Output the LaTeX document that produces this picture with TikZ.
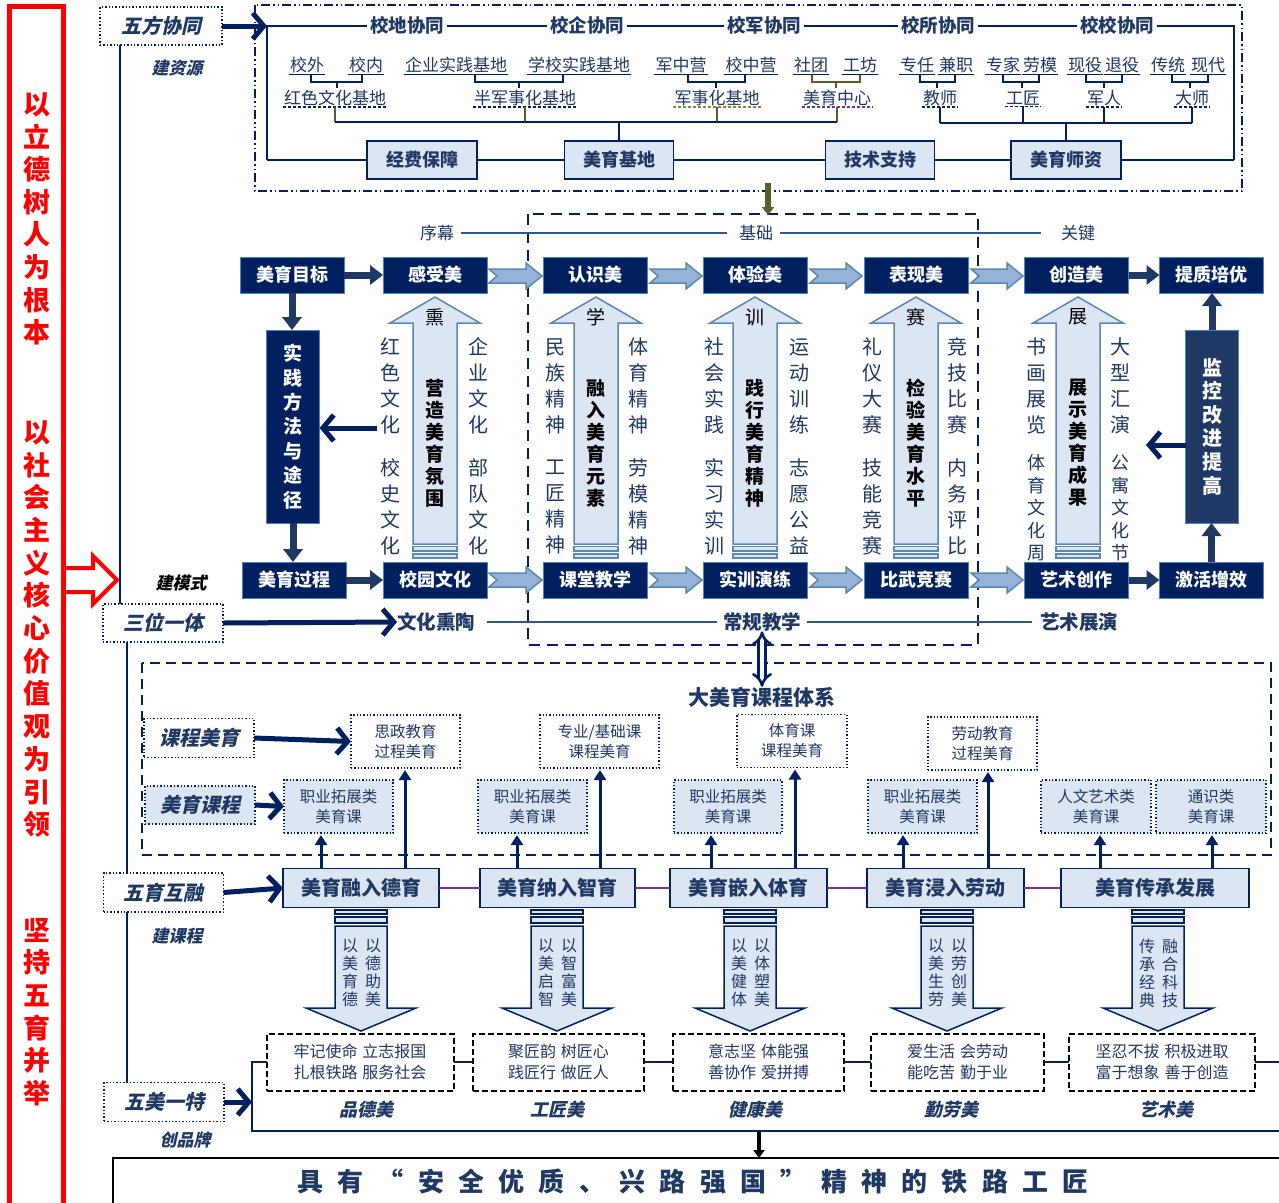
\documentclass[tikz,border=0pt]{standalone}
\usepackage{fontspec}
\setmainfont{Noto Sans CJK SC}
\newfontfamily\itf[FakeSlant=0.22]{Noto Sans CJK SC}
\usetikzlibrary{arrows.meta,calc}
\definecolor{navy}{HTML}{002060}
\definecolor{dblue}{HTML}{1F3864}
\definecolor{lblue}{HTML}{DCE6F2}
\definecolor{ablue}{HTML}{95B3D7}
\definecolor{sblue}{HTML}{4F81BD}
\definecolor{gblue}{HTML}{5B87B5}
\definecolor{lineblue}{HTML}{2F5597}
\definecolor{dgreen}{HTML}{4F6228}
\definecolor{olive}{HTML}{76923C}
\definecolor{purp}{HTML}{7030A0}
\definecolor{redc}{HTML}{FF0000}
\newcommand\fs[2]{\fontsize{#1}{#2}\selectfont}
\tikzset{
  every node/.style={inner sep=0pt, outer sep=0pt},
  navybox/.style={fill=navy, draw=sblue, line width=0.6pt, text=white,
     font=\bfseries\fs{18}{22}, minimum width=104pt, minimum height=36pt},
  vbox/.style={fill=navy, draw=sblue, line width=0.6pt, text=white, align=center,
     font=\bfseries\fs{19}{24.4}, minimum width=53pt, minimum height=193pt},
  lbox/.style={fill=lblue, draw=navy, line width=1.6pt, text=dblue,
     font=\bfseries\fs{18}{22}, minimum height=38pt},
  wybox/.style={lbox, font=\bfseries\fs{20}{24}, minimum height=39pt},
  tagbox/.style={draw=navy, dotted, line width=1.4pt, fill=white, text=dblue,
     font=\itf\bfseries\fs{20}{24}, minimum width=120pt, minimum height=38pt},
  kcbox/.style={draw=navy, dotted, line width=1.3pt, fill=white, text=dblue,
     font=\fs{15.5}{20}, align=center, minimum height=53pt},
  kcbbox/.style={kcbox, fill=lblue},
  pdbox/.style={draw=black, line width=2pt, dash pattern=on 6pt off 3pt, text=dblue,
     font=\fs{16}{21}, align=center, minimum height=57pt},
  toplab/.style={fill=white, inner xsep=3pt, text=dblue, font=\bfseries\fs{18.5}{22}},
  wordA/.style={text=dblue, font=\fs{17}{20}, inner sep=1.2pt},
  vside/.style={text=dblue, font=\fs{20}{26}, align=center},
  vside5/.style={text=dblue, font=\fs{18}{22.5}, align=center},
  vin/.style={text=black, font=\bfseries\fs{19}{22}, align=center},
  vhead/.style={text=black, font=\fs{19}{22}},
  dntxt/.style={text=dblue, font=\fs{16}{18}, align=center},
  lab/.style={text=dblue, font=\itf\bfseries\fs{17}{20}},
  midlab/.style={text=dblue, font=\fs{17}{20}},
  boldlab/.style={text=dblue, font=\bfseries\fs{19.5}{22}},
  frame/.style={draw=navy, line width=2.2pt},
  thinl/.style={draw=lineblue, line width=1.8pt},
  darr/.style={draw=dblue, line width=7pt, -{Triangle[length=13pt,width=19pt]}},
  barb/.style={draw=navy, line width=5pt, -{Straight Barb[length=11pt,width=26pt,line width=5pt]}},
  uparr/.style={draw=navy, line width=3pt, shorten >=2pt, -{Triangle[length=10pt,width=12pt]}},
  chevst/.style={fill=ablue, draw=gblue, line width=1.5pt, line join=miter},
  bigup/.style={fill=lblue, draw=gblue, line width=1.5pt, line join=miter},
  bigdn/.style={fill=lblue, draw=navy, line width=1.5pt, line join=miter},
  bigdash/.style={draw=navy, line width=2.2pt, dash pattern=on 11pt off 7pt},
}
\newcommand\chev[3]{\draw[chevst] (#1,#3-7) -- (#2-16,#3-7) -- (#2-16,#3-13) -- (#2,#3) -- (#2-16,#3+13) -- (#2-16,#3+7) -- (#1,#3+7) -- (#1+8,#3) -- cycle;}
\newcommand\upcol[1]{%
  \draw[bigup] (#1-22,544) -- (#1-22,323) -- (#1-45,323) -- (#1,297) -- (#1+45,323) -- (#1+22,323) -- (#1+22,544) -- cycle;
  \draw[bigup] (#1-22,546.5) rectangle (#1+22,551);
  \draw[bigup] (#1-22,554) rectangle (#1+22,558);}
\newcommand\dncol[1]{%
  \draw[bigdn] (#1-26,910) rectangle (#1+26,914);
  \draw[bigdn] (#1-26,917) rectangle (#1+26,923);
  \draw[bigdn] (#1-26,926) -- (#1-26,1008) -- (#1-55,1008) -- (#1,1031) -- (#1+55,1008) -- (#1+26,1008) -- (#1+26,926) -- cycle;}
\newcommand\brk[4][navy]{\draw[#1, line width=1.4pt] (#2,75) -- (#2,82) -- (#3,82) -- (#3,75) (#4,82) -- (#4,88);}
\begin{document}
\begin{tikzpicture}[x=1pt,y=-1pt]
\useasboundingbox (0,0) rectangle (1279,1202);
\fill[white] (0,0) rectangle (1279,1202);

% ---------- red column ----------
\draw[redc, line width=5pt] (9.5,6) rectangle (63.5,1220);
\node[text=redc, font=\bfseries\fs{27}{32.6}, align=center] (red1) at (37,219) {以\\立\\德\\树\\人\\为\\根\\本};
\node[text=redc, font=\bfseries\fs{27}{32.7}, align=center] (red2) at (37,629) {以\\社\\会\\主\\义\\核\\心\\价\\值\\观\\为\\引\\领};
\node[text=redc, font=\bfseries\fs{27}{32.6}, align=center] (red3) at (37,1012) {坚\\持\\五\\育\\并\\举};
\fill[white] (66,568) -- (93,568) -- (93,556) -- (117,580) -- (93,604) -- (93,592) -- (66,592) -- cycle;
\draw[redc, line width=4pt, line join=miter] (66,568) -- (93,568) -- (93,556) -- (117,580) -- (93,604) -- (93,592) -- (66,592);

% ---------- left tags ----------
\node[tagbox, minimum width=122pt] (wf) at (161,26) {五方协同};
\node[tagbox] (sw) at (163,623) {三位一体};
\node[tagbox, minimum height=39pt] (wy) at (163.5,892.5) {五育互融};
\node[tagbox, minimum height=39pt] (wm) at (164,1102) {五美一特};
\draw[navy, line width=2pt] (wf.south -| 120,0) -- (sw.north -| 120,0);
\draw[navy, line width=2pt] (sw.south -| 127,0) -- (wy.north -| 127,0);
\draw[navy, line width=2pt] (wy.south -| 127,0) -- (wm.north -| 127,0);
\node[lab] (l1) at (177,68) {建资源};
\node[lab, text=black] (l2) at (181,583) {建模式};
\node[lab] (l3) at (177,936) {建课程};
\node[lab] (l4) at (185,1140) {创品牌};

% ---------- top section ----------
\draw[navy, line width=1.8pt, dash pattern=on 9pt off 3pt on 1.5pt off 3pt on 1.5pt off 3pt] (255,5) rectangle (1242,191);
\coordinate (fl) at (267,26);
\draw[barb] (wf.east) -- (fl);
\draw[frame] (267,160) -- (267,26) -- (1234,26) -- (1234,160);
\node[toplab] (x1) at (407,25) {校地协同};
\node[toplab] (x2) at (587,25) {校企协同};
\node[toplab] (x3) at (764,25) {校军协同};
\node[toplab] (x4) at (938,25) {校所协同};
\node[toplab] (x5) at (1117,25) {校校协同};
\node[lbox, minimum width=110pt] (jf) at (422,160) {经费保障};
\node[lbox, minimum width=109pt] (mj) at (619,160) {美育基地};
\node[lbox, minimum width=109pt] (js) at (880,160) {技术支持};
\node[lbox, minimum width=110pt] (ms) at (1066,160) {美育师资};
\draw[frame] (267,160) -- (jf.west) (jf.east) -- (mj.west) (mj.east) -- (js.west) (js.east) -- (ms.west) (ms.east) -- (1234,160);

\foreach \n/\x/\t in {w1/307/校外, w2/366/校内, w3/456/企业实践基地, w4/579/学校实践基地, w5/681/军中营, w6/751/校中营, w7/811/社团, w8/860/工坊, w9/917/专任, w10/956/兼职, w11/1003/专家, w12/1040/劳模, w13/1085/现役, w14/1122/退役, w15/1168/传统, w16/1208/现代}{
  \node[wordA] (\n) at (\x,65) {\t};
  \draw[navy, line width=0.9pt] (\n.south west) -- (\n.south east);}
\foreach \n/\x/\t/\c in {r1/335/红色文化基地/navy, r2/525/半军事化基地/navy, r3/717/军事化基地/olive, r4/837/美育中心/purp, r5/940/教师/navy, r6/1023/工匠/navy, r7/1104/军人/navy, r8/1192/大师/navy}{
  \node[wordA] (\n) at (\x,98) {\t};
  \draw[\c, line width=1.3pt, dash pattern=on 3pt off 2pt] (\n.south west) -- (\n.south east);}
\brk{311}{362}{337}
\brk{475}{563}{519}
\brk{688}{745}{716}
\brk[dgreen]{812}{860}{836}
\brk{920}{955}{937}
\brk{1003}{1039}{1022}
\brk{1086}{1122}{1104}
\brk{1172}{1208}{1190}
\foreach \n in {r1,r2,r3,r4}{\draw[dgreen, line width=1.8pt] (\n.south) -- (\n.south |- 0,122);}
\draw[frame] (r1.south |- 0,122) -- (r4.south |- 0,122);
\draw[frame] (mj.north |- 0,122) -- (mj.north);
\foreach \n in {r5,r6,r7,r8}{\draw[navy, line width=1.8pt] (\n.south) -- (\n.south |- 0,123);}
\draw[frame] (r5.south |- 0,123) -- (r8.south |- 0,123);
\draw[frame] (ms.north |- 0,123) -- (ms.north);

% ---------- middle section ----------
\draw[bigdash] (528,214) rectangle (978,645);
\coordinate (ga) at (768,183);
\coordinate (gb) at (768,215);
\draw[dgreen, line width=6pt, -{Triangle[length=8pt,width=12pt]}] (ga) -- (gb);
\node[midlab] (xm) at (437,233) {序幕};
\node[midlab] (jc) at (756,233) {基础};
\node[midlab] (gj) at (1078,233) {关键};
\draw[thinl] ($(xm.east)+(7,0)$) -- ($(jc.west)+(-12,0)$);
\draw[thinl] ($(jc.east)+(7,0)$) -- ($(gj.west)+(-20,0)$);

\node[navybox] (mt) at (292,275) {美育目标};
\node[navybox] (gs) at (435,275) {感受美};
\node[navybox] (rs) at (595,275) {认识美};
\node[navybox] (ty) at (755.5,275) {体验美};
\node[navybox] (bx) at (916,275) {表现美};
\node[navybox] (cz) at (1076.5,275) {创造美};
\node[navybox] (tz) at (1211.5,275) {提质培优};
\node[navybox] (mg) at (294,580) {美育过程};
\node[navybox] (xy) at (435,580) {校园文化};
\node[navybox] (kt) at (595,580) {课堂教学};
\node[navybox] (sx) at (755.5,580) {实训演练};
\node[navybox] (bw) at (916,580) {比武竞赛};
\node[navybox] (ys) at (1076.5,580) {艺术创作};
\node[navybox] (jh) at (1211.5,580) {激活增效};
\chev{489}{542}{276}\chev{650}{702}{276}\chev{810}{862}{276}\chev{971}{1023}{276}
\chev{489}{542}{580}\chev{650}{702}{580}\chev{810}{862}{580}\chev{971}{1023}{580}

\node[vbox] (sj) at (293,426.5) {实\\践\\方\\法\\与\\途\\径};
\node[vbox, fill=dblue, font=\bfseries\fs{20}{23.6}] (jk) at (1212,426.5) {监\\控\\改\\进\\提\\高};
\draw[darr] (mt.south) -- (mt.south |- sj.north);
\draw[darr] (sj.south) -- (sj.south |- mg.north);
\draw[darr] (mt.east) -- (gs.west);
\draw[darr] (mg.east) -- (xy.west);
\draw[darr] (cz.east) -- (tz.west);
\draw[darr] (ys.east) -- (jh.west);
\draw[darr] (jh.north) -- (jh.north |- jk.south);
\draw[darr] (jk.north) -- (jk.north |- tz.south);

% columns
\upcol{435}
\node[vhead] (h1) at (435,317) {熏};
\node[vin] (i1) at (435,443) {营\\造\\美\\育\\氛\\围};
\node[vside] (a1) at (390,386) {红\\色\\文\\化};
\node[vside] (b1) at (390,507) {校\\史\\文\\化};
\node[vside] (c1) at (478,386) {企\\业\\文\\化};
\node[vside] (e1) at (478,507) {部\\队\\文\\化};
\upcol{596}
\node[vhead] (h2) at (596,317) {学};
\node[vin] (i2) at (596,443) {融\\入\\美\\育\\元\\素};
\node[vside] (a2) at (555,386) {民\\族\\精\\神};
\node[vside] (b2) at (555,507) {工\\匠\\精\\神};
\node[vside] (c2) at (638,386) {体\\育\\精\\神};
\node[vside] (e2) at (638,507) {劳\\模\\精\\神};
\upcol{755}
\node[vhead] (h3) at (755,317) {训};
\node[vin] (i3) at (755,443) {践\\行\\美\\育\\精\\神};
\node[vside] (a3) at (714,386) {社\\会\\实\\践};
\node[vside] (b3) at (714,507) {实\\习\\实\\训};
\node[vside] (c3) at (799,386) {运\\动\\训\\练};
\node[vside] (e3) at (799,507) {志\\愿\\公\\益};
\upcol{916}
\node[vhead] (h4) at (916,317) {赛};
\node[vin] (i4) at (916,443) {检\\验\\美\\育\\水\\平};
\node[vside] (a4) at (872,386) {礼\\仪\\大\\赛};
\node[vside] (b4) at (872,507) {技\\能\\竞\\赛};
\node[vside] (c4) at (957,386) {竞\\技\\比\\赛};
\node[vside] (e4) at (957,507) {内\\务\\评\\比};
\upcol{1078}
\node[vhead] (h5) at (1078,317) {展};
\node[vin] (i5) at (1078,443) {展\\示\\美\\育\\成\\果};
\node[vside] (a5) at (1036,386) {书\\画\\展\\览};
\node[vside5] (b5) at (1036,508) {体\\育\\文\\化\\周};
\node[vside] (c5) at (1120,386) {大\\型\\汇\\演};
\node[vside5] (e5) at (1120,508) {公\\寓\\文\\化\\节};

\coordinate (la) at (377,428);
\draw[barb] (la) -- (la -| sj.east);
\coordinate (rb) at (1146,445);
\draw[barb] (rb -| jk.west) -- (rb);

\node[boldlab] (wh) at (436,622) {文化熏陶};
\node[boldlab] (cg) at (762,622) {常规教学};
\node[boldlab] (yz) at (1079,622) {艺术展演};
\draw[barb] (sw.east) -- (wh.west);
\draw[thinl] ($(wh.east)+(12,0)$) -- ($(cg.west)+(-6,0)$);
\draw[thinl] ($(cg.east)+(6,0)$) -- ($(yz.west)+(-8,0)$);

% ---------- course system ----------
\draw[bigdash, dash pattern=on 10pt off 6pt] (142,663) rectangle (1271,855);
\node[font=\bfseries\fs{21}{24}, text=dblue] (dm) at (762,697) {大美育课程体系};
\draw[navy, line width=2.6pt, double distance=4pt, {Implies}-{Implies}] (cg.south) -- (dm.north);

\node[tagbox, minimum width=110pt, minimum height=39pt] (kc) at (199,738) {课程美育};
\node[tagbox, fill=lblue, minimum width=110pt, minimum height=38pt] (mk) at (200,805) {美育课程};
\node[kcbox, minimum width=109pt] (sz) at (405.5,741.5) {思政教育\\过程美育};
\node[kcbox, minimum width=119pt] (zy) at (599.5,741.5) {专业/基础课\\课程美育};
\node[kcbox, minimum width=110pt] (tk) at (792,741) {体育课\\课程美育};
\node[kcbox, minimum width=109pt] (ld) at (982.5,743.5) {劳动教育\\过程美育};
\node[kcbbox, minimum width=109pt] (z1) at (338.5,806.5) {职业拓展类\\美育课};
\node[kcbbox, minimum width=109pt] (z2) at (532.5,806.5) {职业拓展类\\美育课};
\node[kcbbox, minimum width=108pt] (z3) at (728,806.5) {职业拓展类\\美育课};
\node[kcbbox, minimum width=109pt] (z4) at (922.5,806.5) {职业拓展类\\美育课};
\node[kcbbox, minimum width=110pt] (z5) at (1096,806.5) {人文艺术类\\美育课};
\node[kcbbox, minimum width=110pt] (z6) at (1211,806.5) {通识类\\美育课};
\draw[barb] (kc.east) -- (sz.west);
\draw[barb] (mk.east) -- (z1.west);

\node[wybox, minimum width=156pt] (y1) at (361,888) {美育融入德育};
\node[wybox, minimum width=155pt] (y2) at (557.5,888) {美育纳入智育};
\node[wybox, minimum width=157pt] (y3) at (748.5,888) {美育嵌入体育};
\node[wybox, minimum width=157pt] (y4) at (945.5,888) {美育浸入劳动};
\node[wybox, minimum width=188pt] (y5) at (1155,888) {美育传承发展};
\draw[barb] (wy.east) -- (y1.west);
\foreach \a/\b in {y1/y2,y2/y3,y3/y4,y4/y5}{\draw[purp, line width=2pt] (\a.east) -- (\b.west);}
\draw[uparr] (y1.north -| 321,0) -- (z1.south -| 321,0);
\draw[uparr] (y1.north -| 405,0) -- (sz.south -| 405,0);
\draw[uparr] (y2.north -| 517,0) -- (z2.south -| 517,0);
\draw[uparr] (y2.north -| 600,0) -- (zy.south -| 600,0);
\draw[uparr] (y3.north -| 711,0) -- (z3.south -| 711,0);
\draw[uparr] (y3.north -| 795,0) -- (tk.south -| 795,0);
\draw[uparr] (y4.north -| 903,0) -- (z4.south -| 903,0);
\draw[uparr] (y4.north -| 988,0) -- (ld.south -| 988,0);
\draw[uparr] (y5.north -| 1100,0) -- (z5.south -| 1100,0);
\draw[uparr] (y5.north -| 1212,0) -- (z6.south -| 1212,0);

\dncol{361}\dncol{557}\dncol{750}\dncol{947}\dncol{1158}
\node[dntxt] (t1a) at (350,973) {以\\美\\育\\德};
\node[dntxt] (t1b) at (373,973) {以\\德\\助\\美};
\node[dntxt] (t2a) at (546,973) {以\\美\\启\\智};
\node[dntxt] (t2b) at (569,973) {以\\智\\富\\美};
\node[dntxt] (t3a) at (739,973) {以\\美\\健\\体};
\node[dntxt] (t3b) at (762,973) {以\\体\\塑\\美};
\node[dntxt] (t4a) at (936,973) {以\\美\\生\\劳};
\node[dntxt] (t4b) at (959,973) {以\\劳\\创\\美};
\node[dntxt] (t5a) at (1147,973) {传\\承\\经\\典};
\node[dntxt] (t5b) at (1170,973) {融\\合\\科\\技};

% ---------- five beauties ----------
\node[pdbox, minimum width=187pt] (p1) at (360,1062) {牢记使命\hspace{5pt}立志报国\\扎根铁路\hspace{5pt}服务社会};
\node[pdbox, minimum width=171pt] (p2) at (558.5,1062) {聚匠韵\hspace{5pt}树匠心\\践匠行\hspace{5pt}做匠人};
\node[pdbox, minimum width=171pt] (p3) at (758.5,1062) {意志坚\hspace{5pt}体能强\\善协作\hspace{5pt}爱拼搏};
\node[pdbox, minimum width=173pt] (p4) at (957.5,1062) {爱生活\hspace{5pt}会劳动\\能吃苦\hspace{5pt}勤于业};
\node[pdbox, minimum width=186pt] (p5) at (1162,1062) {坚忍不拔\hspace{5pt}积极进取\\富于想象\hspace{5pt}善于创造};
\coordinate (bl) at (252,1062);
\coordinate (br) at (1290,1062);
\coordinate (bb1) at (252,1131);
\coordinate (bb2) at (1290,1131);
\draw[frame] (br) -- (p5.east) (p5.west) -- (p4.east) (p4.west) -- (p3.east) (p3.west) -- (p2.east) (p2.west) -- (p1.east) (p1.west) -- (bl) -- (bb1) -- (bb2);
\coordinate (bm) at (252,1102);
\draw[barb] (wm.east) -- (bm);
\node[lab, font=\itf\bfseries\fs{18}{20}] (q1) at (366,1110) {品德美};
\node[lab, font=\itf\bfseries\fs{18}{20}] (q2) at (557,1110) {工匠美};
\node[lab, font=\itf\bfseries\fs{18}{20}] (q3) at (755,1110) {健康美};
\node[lab, font=\itf\bfseries\fs{18}{20}] (q4) at (951,1110) {勤劳美};
\node[lab, font=\itf\bfseries\fs{18}{20}] (q5) at (1166,1110) {艺术美};

\node[draw=black, line width=2.5pt, minimum width=1180pt, minimum height=60pt] (bb) at (703,1188) {};
\node[text=dblue, font=\bfseries\fs{26}{30}\addfontfeature{LetterSpace=55}] (bt) at (693,1182) {具有“安全优质、兴路强国”精神的铁路工匠};
\coordinate (da) at (759,1132);
\draw[black, line width=3.5pt, -{Triangle[length=8pt,width=11pt]}] (da) -- (da |- bb.north);
\end{tikzpicture}
\end{document}
